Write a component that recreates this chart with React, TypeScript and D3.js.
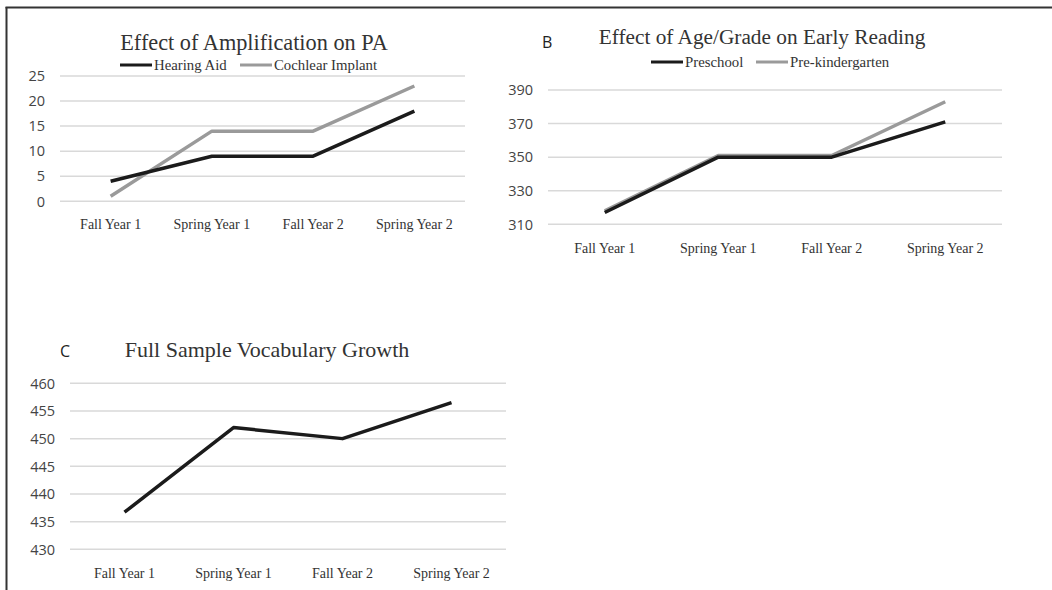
import { useEffect, useRef } from 'react';
import * as d3 from 'd3';

// datos
const waves = ['Fall Year 1', 'Spring Year 1', 'Fall Year 2', 'Spring Year 2'];

const hearingAid = [4, 9, 9, 18];
const cochlearImplant = [1, 14, 14, 23];
const ticksA = [0, 5, 10, 15, 20, 25];

const preschool = [317, 350, 350, 371];
const preKindergarten = [318, 351, 351, 383];
const ticksB = [310, 330, 350, 370, 390];

const vocabulary = [436.7, 452, 450, 456.5];
const ticksC = [430, 435, 440, 445, 450, 455, 460];

const BLACK = '#1b1b1b';
const GRAY = '#9a9a9a';
const SERIF = '"Liberation Serif", "Times New Roman", serif';
const SANS = '"Open Sans", "DejaVu Sans", sans-serif';

type Series = { name: string; values: number[]; color: string; legendX?: number };

type Panel = {
  letter?: string;
  letterX?: number;
  letterY?: number;
  title: string;
  titleX: number;
  titleY: number;
  titleSize: number;
  legendY?: number;
  x0: number;
  x1: number;
  yTop: number;
  yBottom: number;
  ticks: number[];
  tickRight: number;
  labelY: number;
  series: Series[];
};

const drawPanel = (svg: d3.Selection<SVGSVGElement, unknown, null, undefined>, p: Panel) => {
  const g = svg.append('g');

  const x = d3.scalePoint<string>().domain(waves).range([p.x0, p.x1]).padding(0.5);
  const y = d3.scaleLinear()
    .domain([p.ticks[0], p.ticks[p.ticks.length - 1]])
    .range([p.yBottom, p.yTop]);

  // grid
  g.selectAll('line.grid').data(p.ticks).join('line')
    .attr('x1', p.x0).attr('x2', p.x1)
    .attr('y1', d => y(d)).attr('y2', d => y(d))
    .attr('stroke', '#d9d9d9').attr('stroke-width', 1.5);

  // etiquetas eje Y
  g.selectAll('text.ytick').data(p.ticks).join('text')
    .attr('x', p.tickRight).attr('y', d => y(d)).attr('dy', '0.36em')
    .attr('text-anchor', 'end')
    .style('font-family', SANS).style('font-size', '14.5px').attr('fill', '#444')
    .text(d => d);

  // etiquetas eje X
  g.selectAll('text.xtick').data(waves).join('text')
    .attr('x', d => x(d)!).attr('y', p.labelY)
    .attr('text-anchor', 'middle')
    .style('font-family', SERIF).style('font-size', '14px').attr('fill', '#333')
    .text(d => d);

  // líneas (la gris primero para que la negra quede encima)
  const line = d3.line<number>().x((_, i) => x(waves[i])!).y(d => y(d));
  [...p.series].reverse().forEach(s => {
    g.append('path').datum(s.values)
      .attr('fill', 'none').attr('stroke', s.color).attr('stroke-width', 3.5)
      .attr('stroke-linejoin', 'round').attr('d', line);
  });

  // título
  g.append('text')
    .attr('x', p.titleX).attr('y', p.titleY).attr('text-anchor', 'middle')
    .style('font-family', SERIF).style('font-size', `${p.titleSize}px`).attr('fill', '#333')
    .text(p.title);

  if (p.letter) {
    g.append('text')
      .attr('x', p.letterX!).attr('y', p.letterY!)
      .style('font-family', SANS).style('font-size', '16px').style('font-weight', 500)
      .attr('fill', '#222')
      .text(p.letter);
  }

  // leyenda
  if (p.legendY !== undefined) {
    p.series.forEach(s => {
      const lx = s.legendX!;
      g.append('line')
        .attr('x1', lx).attr('x2', lx + 32).attr('y1', p.legendY!).attr('y2', p.legendY!)
        .attr('stroke', s.color).attr('stroke-width', 3);
      g.append('text')
        .attr('x', lx + 34).attr('y', p.legendY! + 4.5)
        .style('font-family', SERIF).style('font-size', '14.8px').attr('fill', '#333')
        .text(s.name);
    });
  }
};

const App = () => {
  const ref = useRef<SVGSVGElement>(null);

  useEffect(() => {
    if (!ref.current) return;
    const svg = d3.select(ref.current);
    svg.selectAll('*').remove();

    svg.append('rect').attr('width', 1052).attr('height', 590).attr('fill', 'white');

    // marco
    svg.append('line').attr('x1', 5.5).attr('x2', 1052).attr('y1', 7.5).attr('y2', 7.5)
      .attr('stroke', '#333').attr('stroke-width', 2);
    svg.append('line').attr('x1', 6.5).attr('x2', 6.5).attr('y1', 7).attr('y2', 590)
      .attr('stroke', '#333').attr('stroke-width', 2);

    drawPanel(svg, {
      title: 'Effect of Amplification on PA', titleX: 254, titleY: 50, titleSize: 22.3,
      legendY: 65,
      x0: 60, x1: 465, yTop: 76, yBottom: 201.3,
      ticks: ticksA, tickRight: 45, labelY: 229,
      series: [
        { name: 'Hearing Aid', values: hearingAid, color: BLACK, legendX: 120 },
        { name: 'Cochlear Implant', values: cochlearImplant, color: GRAY, legendX: 240 },
      ],
    });

    drawPanel(svg, {
      letter: 'B', letterX: 542, letterY: 48,
      title: 'Effect of Age/Grade on Early Reading', titleX: 762, titleY: 44, titleSize: 21.3,
      legendY: 62,
      x0: 548, x1: 1002, yTop: 90, yBottom: 224.3,
      ticks: ticksB, tickRight: 533, labelY: 253,
      series: [
        { name: 'Preschool', values: preschool, color: BLACK, legendX: 651 },
        { name: 'Pre-kindergarten', values: preKindergarten, color: GRAY, legendX: 756 },
      ],
    });

    drawPanel(svg, {
      letter: 'C', letterX: 60, letterY: 357,
      title: 'Full Sample Vocabulary Growth', titleX: 267, titleY: 357, titleSize: 22,
      x0: 70, x1: 506, yTop: 383.3, yBottom: 549.3,
      ticks: ticksC, tickRight: 55, labelY: 578,
      series: [{ name: 'Full Sample', values: vocabulary, color: BLACK }],
    });
  }, []);

  return (
    <svg ref={ref} width={1052} height={590}
      style={{ position: 'absolute', left: 0, top: 0, display: 'block' }} />
  );
};

export default App;
